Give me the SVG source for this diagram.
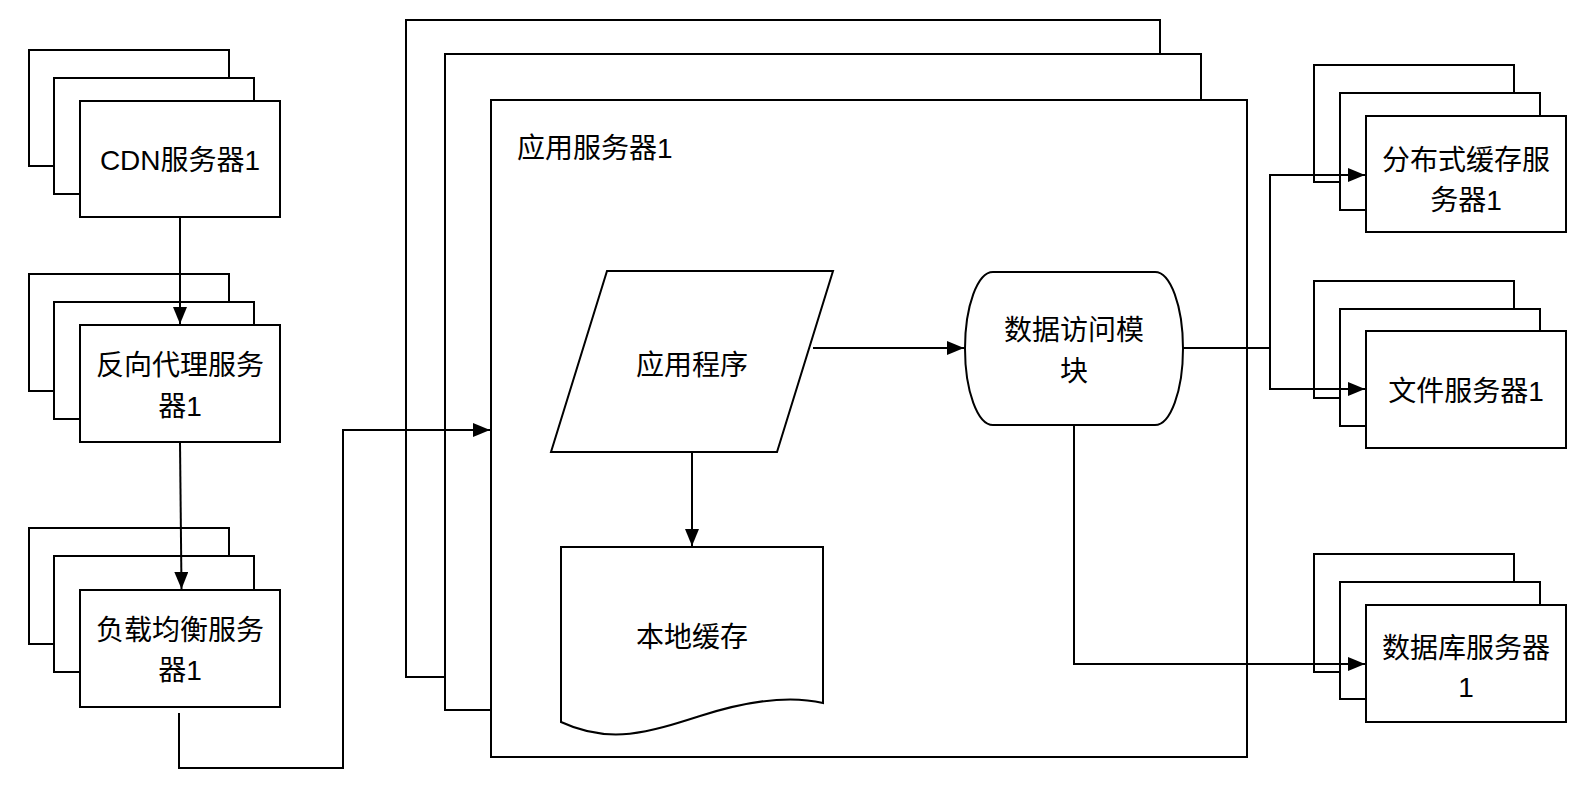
<svg xmlns="http://www.w3.org/2000/svg" width="1596" height="802" viewBox="0 0 1596 802">
<defs>
<style>
.s{fill:#fff;stroke:#000;stroke-width:2}
.c{fill:none;stroke:#000;stroke-width:2}
.t{font-family:"Liberation Sans","Noto Sans CJK SC",sans-serif;font-size:28px;fill:#000;text-anchor:middle;dominant-baseline:central}
.tl{font-family:"Liberation Sans","Noto Sans CJK SC",sans-serif;font-size:28px;fill:#000;dominant-baseline:central}
</style>
<marker id="ah" markerUnits="userSpaceOnUse" markerWidth="18" markerHeight="14" refX="17" refY="7" orient="auto">
<path d="M0,0 L17,7 L0,14 Z" fill="#000"/>
</marker>
</defs>
<rect width="1596" height="802" fill="#fff"/>

<g id="app-server">
<rect class="s" x="406" y="20" width="754" height="657"/>
<rect class="s" x="445" y="54" width="756" height="656"/>
<rect class="s" x="491" y="100" width="756" height="657"/>
<text class="tl" x="517" y="148">应用服务器1</text>
</g>

<g id="cdn">
<rect class="s" x="29" y="50" width="200" height="116"/>
<rect class="s" x="54" y="78" width="200" height="116"/>
<rect class="s" x="80" y="101" width="200" height="116"/>
<text class="t" x="180" y="160">CDN服务器1</text>
</g>

<g id="reverse-proxy">
<rect class="s" x="29" y="274" width="200" height="117"/>
<rect class="s" x="54" y="302" width="200" height="117"/>
<rect class="s" x="80" y="325" width="200" height="117"/>
<text class="t" x="180" y="365">反向代理服务</text>
<text class="t" x="180" y="406">器1</text>
</g>

<g id="load-balancer">
<rect class="s" x="29" y="528" width="200" height="116"/>
<rect class="s" x="54" y="556" width="200" height="116"/>
<rect class="s" x="80" y="590" width="200" height="117"/>
<text class="t" x="180" y="630">负载均衡服务</text>
<text class="t" x="180" y="670">器1</text>
</g>

<g id="app-program">
<path class="s" d="M607,271 L833,271 L777,452 L551,452 Z"/>
<text class="t" x="692" y="365">应用程序</text>
</g>

<g id="local-cache">
<path class="s" d="M561,547 H823 V703 C790,695 750,700 700,716 C650,732 610,745 561,722 Z"/>
<text class="t" x="692" y="637">本地缓存</text>
</g>

<g id="data-access">
<path class="s" d="M993,272 H1155 A28,76.5 0 0 1 1155,425 H993 A28,76.5 0 0 1 993,272 Z"/>
<text class="t" x="1074" y="330">数据访问模</text>
<text class="t" x="1074" y="371">块</text>
</g>

<g id="dist-cache">
<rect class="s" x="1314" y="65" width="200" height="117"/>
<rect class="s" x="1340" y="93" width="200" height="117"/>
<rect class="s" x="1366" y="116" width="200" height="116"/>
<text class="t" x="1466" y="160">分布式缓存服</text>
<text class="t" x="1466" y="200">务器1</text>
</g>

<g id="file-server">
<rect class="s" x="1314" y="281" width="200" height="117"/>
<rect class="s" x="1340" y="309" width="200" height="117"/>
<rect class="s" x="1366" y="331" width="200" height="117"/>
<text class="t" x="1466" y="391">文件服务器1</text>
</g>

<g id="db-server">
<rect class="s" x="1314" y="554" width="200" height="118"/>
<rect class="s" x="1340" y="582" width="200" height="117"/>
<rect class="s" x="1366" y="605" width="200" height="117"/>
<text class="t" x="1466" y="648">数据库服务器</text>
<text class="t" x="1466" y="687">1</text>
</g>

<g id="connectors">
<path class="c" d="M180,217 V324" marker-end="url(#ah)"/>
<path class="c" d="M180,442 L181.5,589" marker-end="url(#ah)"/>
<path class="c" d="M179,713 V768 H343 V430 H490" marker-end="url(#ah)"/>
<path class="c" d="M813,348 H964" marker-end="url(#ah)"/>
<path class="c" d="M692,452 V546" marker-end="url(#ah)"/>
<path class="c" d="M1183,348 H1270 V175 H1365" marker-end="url(#ah)"/>
<path class="c" d="M1270,348 V389 H1365" marker-end="url(#ah)"/>
<path class="c" d="M1074,425 V664 H1365" marker-end="url(#ah)"/>
</g>
</svg>
